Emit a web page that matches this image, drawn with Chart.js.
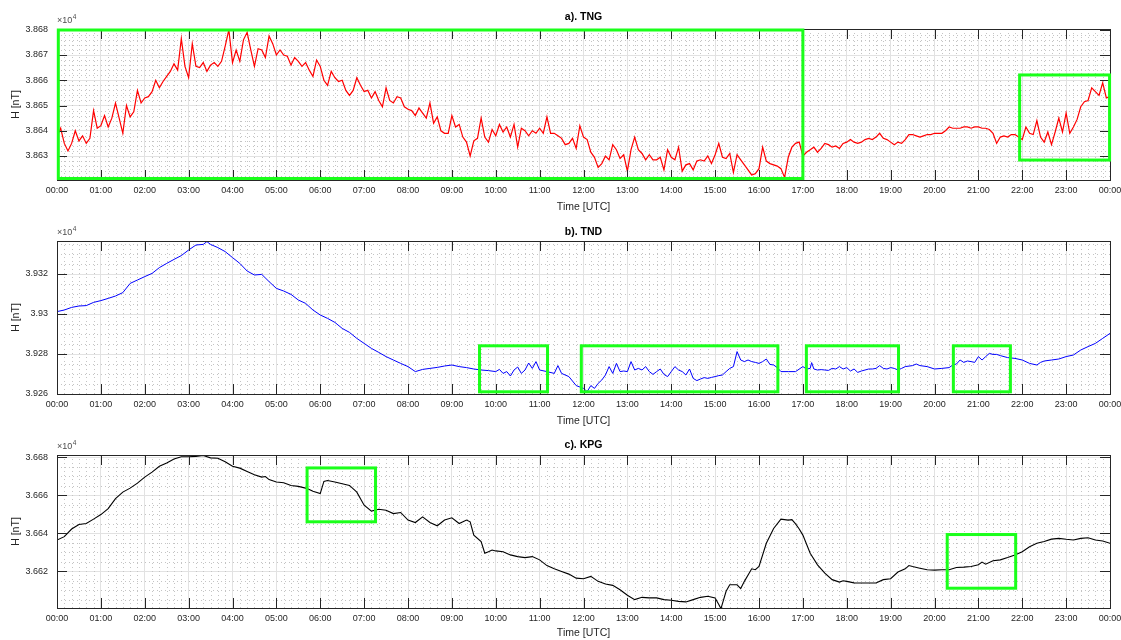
<!DOCTYPE html>
<html>
<head>
<meta charset="utf-8">
<script src="https://cdn.jsdelivr.net/npm/chart.js@4.4.1/dist/chart.umd.min.js"></script>
<style>
  html, body { margin: 0; padding: 0; background: #fff; }
  #wrap { position: relative; width: 1121px; height: 640px; }
  canvas { position: absolute; left: 0; }
</style>
</head>
<body>
<div id="wrap">
  <canvas id="cTNG" width="1121" height="214" style="top:0px"></canvas>
  <canvas id="cTND" width="1121" height="214" style="top:214px"></canvas>
  <canvas id="cKPG" width="1121" height="212" style="top:428px"></canvas>
</div>
<script>
// x axis: hours of the day
var hourTicks = [0,1,2,3,4,5,6,7,8,9,10,11,12,13,14,15,16,17,18,19,20,21,22,23,24]
var hourLabels = ['00:00','01:00','02:00','03:00','04:00','05:00','06:00','07:00','08:00','09:00','10:00','11:00',
  '12:00','13:00','14:00','15:00','16:00','17:00','18:00','19:00','20:00','21:00','22:00','23:00','00:00']

// a). TNG  - one value every 5 minutes from 00:00 to 24:00 (nT)
var tngStepMin = 5
var tngH = [
  38637.5,38641,38635,38632,38635,38640,38636,38638,38635,38637,38648,38641,
  38642,38646,38641.5,38645,38651,38645,38639,38650,38645.5,38647.5,38656,38651,
  38653,38653.5,38655.5,38660,38657,38659.5,38661.5,38663.5,38666.5,38664,38676.5,38665.5,
  38661,38674.5,38665.5,38665,38667,38663.5,38666,38667,38665.5,38667.5,38673.5,38680,
  38667,38672,38667.5,38676,38679,38672,38665.5,38672.5,38672,38669,38677.5,38674.5,
  38670,38672,38670,38669.5,38666,38669,38667.5,38665.5,38667,38664,38661.5,38668,
  38665.5,38660,38658,38663.5,38661,38659.5,38660,38656,38654,38656,38661,38658,
  38655.5,38656,38653,38655.5,38652,38649.5,38657,38652,38651,38653.5,38653,38649.5,
  38648.5,38648,38646,38649,38647,38645,38651,38643,38645.5,38640,38639,38639,
  38646,38641.5,38642.5,38637.5,38635.5,38630,38636,38637,38645,38637.5,38635.5,38640.5,
  38638,38642.5,38639.5,38641.5,38637.5,38642.5,38633.5,38641,38640,38638,38640,38639,
  38641,38639,38645.5,38639,38639,38638,38637,38634.5,38635,38637,38633,38642,
  38637.5,38636.5,38631.5,38629.5,38625.5,38627,38630,38628.5,38634.5,38632.5,38629,38630.5,
  38624,38632.5,38637.5,38632.5,38631,38628.5,38630.5,38628.5,38628.5,38629.5,38624.5,38632.5,
  38629.5,38628.5,38633.5,38624,38626.5,38627,38624.5,38628,38628.5,38628,38630,38627,
  38630.5,38635,38629.5,38629,38631,38623.5,38630.5,38628.5,38626.5,38624.5,38622.5,38623,
  38625,38633.5,38628,38627,38626.5,38626,38625,38621.5,38629.5,38633.5,38635,38635.5,
  38630,38631.5,38632.5,38633.5,38631.5,38633,38635,38634.5,38633.5,38634,38633,38635,
  38635.5,38636.5,38635.5,38635,38635.5,38636.5,38637,38636.5,38637.5,38639,38637,38636.5,
  38635.5,38634.5,38635.5,38635,38636.5,38638.5,38638.5,38638,38637.5,38638,38638.5,38638.5,
  38639,38639,38639,38640,38641.5,38641,38641,38641,38641.5,38641.5,38641,38641.5,
  38641.5,38641,38641,38640.5,38639,38635,38637.5,38638,38637.5,38638.5,38638.5,38637.5,
  38636.5,38641.5,38639,38638.5,38644,38637.5,38635.5,38639.5,38634.5,38639.5,38645,38639.5,
  38647,38639,38641.5,38644.5,38649.5,38651.5,38652,38657,38655.5,38654,38659,38653,
  38653.5
]

// b). TND (nT)
var tndTime = [
  '00:00','00:10','00:20','00:30','00:40','00:50',
  '01:00','01:10','01:20','01:30','01:40','01:50',
  '02:00','02:10','02:20','02:30','02:40','02:50',
  '03:00','03:10','03:20','03:25','03:30','03:40','03:50',
  '04:00','04:10','04:20','04:30','04:40','04:50',
  '05:00','05:10','05:20','05:30','05:40','05:50',
  '06:00','06:10','06:20','06:30','06:40','06:50',
  '07:00','07:10','07:20','07:30','07:40','07:50',
  '08:00','08:10','08:20','08:30','08:40','08:50',
  '09:00','09:10','09:20','09:30','09:40','09:50',
  '10:00','10:05','10:10','10:15','10:20','10:25','10:30','10:35','10:40','10:45','10:50','10:55',
  '11:00','11:10','11:20','11:25','11:30','11:40','11:50',
  '12:00','12:05','12:10','12:15','12:20','12:25','12:30','12:35','12:40','12:45','12:50','12:55',
  '13:00','13:05','13:10','13:15','13:20','13:25','13:30','13:35','13:40','13:45','13:50','13:55',
  '14:00','14:05','14:10','14:15','14:20','14:25','14:30','14:35','14:40','14:45','14:50','14:55',
  '15:00','15:05','15:10','15:15','15:20','15:25','15:30','15:35','15:40','15:45','15:50','15:55',
  '16:00','16:05','16:10','16:15','16:20','16:25','16:30','16:40','16:50',
  '17:00','17:05','17:10','17:12','17:15','17:20','17:25','17:30','17:35','17:40','17:45','17:50','17:55',
  '18:00','18:05','18:10','18:15','18:20','18:25','18:30','18:35','18:40','18:45','18:50','18:55',
  '19:00','19:05','19:10','19:15','19:20','19:30','19:35','19:40','19:50',
  '20:00','20:10','20:20','20:25','20:30','20:35','20:40','20:45','20:50','20:55',
  '21:00','21:05','21:10','21:15','21:20','21:25','21:30','21:40','21:50',
  '22:00','22:10','22:20','22:25','22:30','22:40','22:50',
  '23:00','23:10','23:20','23:30','23:40','23:50','24:00'
]
var tndH = [
  39301.2,39302,39303.3,39304,39304.2,39305.8,
  39306.7,39307.8,39309,39310.7,39315.3,39317,
  39318.7,39320.3,39323.2,39325.3,39327.3,39329.2,
  39332,39334.5,39334.8,39336.2,39334.8,39333.2,39331.2,
  39328.2,39325.3,39321.5,39319.5,39319.8,39316.2,
  39312.8,39311.5,39309.8,39307,39305.3,39302,
  39299.5,39297.8,39295.8,39292.8,39290.8,39287.8,
  39285.3,39282.8,39280.8,39278.7,39277,39275.3,
  39273.7,39271.2,39272.3,39272.8,39273.3,39274,
  39274.5,39273.7,39273.2,39272.5,39272,39271.7,
  39271.2,39272.3,39270.3,39271.2,39269,39272,39273.5,39270.3,39272,39275.5,39272.8,39276.2,
  39272,39271.2,39270.3,39274.2,39270.3,39268.7,39264.2,
  39262.8,39261.2,39264.2,39262.8,39265.3,39267,39269.5,39273.7,39270.3,39275.3,39271.2,39271.5,
  39271.2,39276.2,39272,39272.8,39272,39273.7,39271.2,39269.8,39271.2,39272.5,39269.8,39268.7,
  39271.2,39273.7,39272,39271.2,39269.5,39272.5,39267.8,39266.7,39267.5,39268.2,39267.8,39268.3,
  39268.7,39269.2,39269.5,39271.2,39272.8,39273.7,39281.2,39277,39276.2,39277,39276.2,39275.8,
  39275.3,39276.2,39277.5,39274.8,39274.5,39273.2,39271.2,39271.2,39271.2,
  39273.7,39272.5,39272.8,39275.7,39272.5,39272,39272.2,39272,39271.8,39272.8,39272.5,39273.7,39272.5,
  39273.2,39271.5,39272.5,39270.8,39271.5,39272,39272.5,39272.5,39272.8,39274.2,39272.8,39272.5,
  39273.2,39272.8,39272,39272.8,39273.7,39274.2,39275,39274.2,39273.7,
  39272.5,39272.8,39273.2,39274.5,39275,39277,39275.8,39276.5,39276.2,39275.8,
  39278.7,39277,39278.7,39280.3,39279.8,39279.8,39279.2,39278.2,39277.8,
  39277,39275.3,39274.5,39275.8,39276.5,39277,39277.5,
  39278.7,39279.5,39282,39283.7,39285.3,39287.8,39290.3
]

// c). KPG (nT)
var kpgTime = [
  '00:00','00:10','00:20','00:30','00:40','00:50',
  '01:00','01:10','01:20','01:30','01:40','01:50',
  '02:00','02:10','02:20','02:30','02:40','02:50',
  '03:00','03:10','03:20','03:30','03:40','03:50',
  '04:00','04:10','04:20','04:30','04:40','04:45','04:50',
  '05:00','05:10','05:20','05:30','05:40','05:45','05:50',
  '06:00','06:05','06:10','06:20','06:30','06:40','06:50',
  '07:00','07:10','07:20','07:30','07:40','07:50',
  '08:00','08:10','08:20','08:30','08:40','08:50',
  '09:00','09:10','09:20','09:25','09:30','09:40','09:45','09:50','09:55',
  '10:00','10:10','10:20','10:30','10:40','10:50',
  '11:00','11:10','11:20','11:30','11:40','11:50',
  '12:00','12:10','12:20','12:30','12:40','12:50',
  '13:00','13:10','13:20','13:30','13:40','13:50',
  '14:00','14:10','14:20','14:30','14:40','14:50',
  '15:00','15:05','15:08','15:15','15:20','15:30','15:35','15:40','15:50','15:55',
  '16:00','16:10','16:20','16:30','16:40','16:45','16:50','16:55',
  '17:00','17:10','17:20','17:30','17:40','17:50','17:55',
  '18:00','18:10','18:20','18:30','18:40','18:50',
  '19:00','19:10','19:20','19:25','19:30','19:40','19:50',
  '20:00','20:10','20:20','20:30','20:40','20:50',
  '21:00','21:05','21:10','21:20','21:30','21:40','21:50',
  '22:00','22:10','22:20','22:30','22:40','22:50',
  '23:00','23:10','23:20','23:30','23:40','23:50','24:00'
]
var kpgH = [
  36636.5,36638.3,36642.3,36644.7,36645.2,36647.5,
  36649.9,36653,36658.3,36661.7,36663.8,36666.4,
  36669.6,36672.2,36675.3,36677,36679.1,36680.3,
  36680.3,36680.5,36680.9,36679.7,36679.5,36677.7,
  36675.3,36674.3,36672.5,36670.8,36669.6,36669.9,36668.3,
  36667,36666.6,36665.2,36664.7,36663.8,36663.1,36662.1,
  36660.9,36667.3,36667.8,36667,36666.1,36665.2,36661.7,
  36654.8,36651.7,36652.7,36652.2,36650.4,36651,
  36647,36645.7,36648.7,36645.7,36644,36647,
  36648.2,36645.2,36647,36646.1,36639.1,36635.7,36629.6,36630.4,36631.3,
  36630.8,36630.4,36628.7,36627.8,36627.3,36627.8,
  36626.1,36623.1,36621.4,36620,36618.6,36616.5,
  36616.2,36617.4,36614.8,36613.4,36612.7,36610.4,
  36607.5,36605.2,36606.4,36606.1,36606.1,36605.2,
  36604.9,36604.3,36604,36605.2,36606.4,36607,
  36606.1,36602.6,36600.5,36609.6,36613,36613,36611,36614.8,36621.4,36620.9,
  36622.6,36634.8,36642.6,36647.5,36647,36647.2,36645,36642.3,
  36639.1,36629.6,36623.5,36619.1,36615.7,36614.4,36615.1,
  36614.8,36614,36613.9,36613.9,36613.9,36615.7,
  36616.2,36619.7,36621.4,36623.1,36622.6,36621.7,36620.9,
  36620.7,36620.9,36620.9,36622.1,36622.3,36622.6,
  36623.5,36624.9,36623.8,36625.6,36626.1,36627.3,36628.7,
  36630.4,36633,36634.8,36635.7,36637,36637.4,
  36636.9,36636.5,36637.4,36637.7,36636.5,36636,36634.8
]

// y axis ticks and limits (nT)
var tngTicks = [38630,38640,38650,38660,38670,38680]
var tndTicks = [39260,39280,39300,39320]
var kpgTicks = [36620,36640,36660,36680]
var tngRange = [38620.5, 38680.3]
var tndRange = [39260, 39336.5]
var kpgRange = [36600.8, 36681.2]

// highlighted intervals: [start hour, end hour, low nT, high nT]
var tngBoxes = [[0.03,17,38621.1,38679.9],[21.94,23.99,38628.4,38662.1]]
var tndBoxes = [[9.63,11.18,39261.1,39284.1],[11.95,16.43,39261.1,39284.1],
                [17.08,19.18,39261.1,39284.1],[20.43,21.73,39261.1,39284.1]]
var kpgBoxes = [[5.7,7.26,36646.1,36674.4],[20.29,21.85,36611.2,36639.4]]

var FONT = '"Liberation Sans", Arial, Helvetica, sans-serif'
var TXT = '#262626'

function toHours(t){
   var p = t.split(':')
   return parseInt(p[0]) + parseInt(p[1]) / 60
}

function makeDeco(cfg){
   return {
      id: 'deco',
      beforeDatasetsDraw(chart){
         const ctx = chart.ctx, a = chart.chartArea, x = chart.scales.x, y = chart.scales.y
         ctx.save()
         ctx.strokeStyle = '#c4c4c4'
         ctx.lineWidth = 1
         ctx.setLineDash([1, 3])
         ctx.beginPath()
         // minor grid every 10 minutes
         for (var m = 10; m < 24 * 60; m += 10){
            if (m % 60 === 0) continue
            var px = Math.round(x.getPixelForValue(m / 60)) + 0.5
            ctx.moveTo(px, a.top); ctx.lineTo(px, a.bottom)
         }
         for (var v = Math.ceil(y.min / cfg.minorStep) * cfg.minorStep; v <= y.max; v += cfg.minorStep){
            if (v % cfg.majorStep === 0) continue
            var py = Math.round(y.getPixelForValue(v)) + 0.5
            ctx.moveTo(a.left, py); ctx.lineTo(a.right, py)
         }
         ctx.stroke()
         ctx.restore()
      },
      afterDatasetsDraw(chart){
         const ctx = chart.ctx, a = chart.chartArea, x = chart.scales.x, y = chart.scales.y
         ctx.save()
         // inward tick marks on all four sides
         ctx.strokeStyle = TXT
         ctx.lineWidth = 1
         ctx.beginPath()
         hourTicks.forEach(function(h){
            var px = Math.round(x.getPixelForValue(h)) + 0.5
            ctx.moveTo(px, a.bottom); ctx.lineTo(px, a.bottom - 10)
            ctx.moveTo(px, a.top); ctx.lineTo(px, a.top + 10)
         })
         cfg.ticks.forEach(function(t){
            var py = Math.round(y.getPixelForValue(t)) + 0.5
            ctx.moveTo(a.left, py); ctx.lineTo(a.left + 10, py)
            ctx.moveTo(a.right, py); ctx.lineTo(a.right - 10, py)
         })
         ctx.stroke()
         // axes box
         ctx.strokeRect(Math.round(a.left) + 0.5, Math.round(a.top) + 0.5,
                        Math.round(a.right - a.left), Math.round(a.bottom - a.top))
         // green boxes
         ctx.strokeStyle = '#1aff1a'
         ctx.lineWidth = 3
         cfg.boxes.forEach(function(b){
            var x0 = x.getPixelForValue(b[0]), x1 = x.getPixelForValue(b[1])
            var y0 = y.getPixelForValue(b[3]), y1 = y.getPixelForValue(b[2])
            ctx.strokeRect(x0, y0, x1 - x0, y1 - y0)
         })
         // exponent label
         ctx.fillStyle = '#4d4d4d'
         ctx.textBaseline = 'alphabetic'
         ctx.textAlign = 'left'
         ctx.font = '9px ' + FONT
         ctx.fillText('\u00d710', a.left, a.top - 6)
         var w = ctx.measureText('\u00d710').width
         ctx.font = '6.5px ' + FONT
         ctx.fillText('4', a.left + w + 0.5, a.top - 10)
         // panel title
         ctx.fillStyle = '#000'
         ctx.font = 'bold 10.5px ' + FONT
         ctx.textAlign = 'center'
         ctx.textBaseline = 'middle'
         ctx.fillText(cfg.title, (a.left + a.right) / 2, cfg.titleY)
         ctx.restore()
      }
   }
}

function makePanel(canvasId, points, color, lineW, range, ticks, majorStep, minorStep, boxes, title, titleY, topPad){
   const canvas = document.getElementById(canvasId)
   const ctx = canvas.getContext('2d')
   const h = canvas.height
   return new Chart(ctx, {
      type: 'line',
      data: {
         datasets: [{
            data: points,
            borderColor: color,
            borderWidth: lineW,
            pointRadius: 0,
            tension: 0,
            fill: false
         }]
      },
      options: {
         responsive: false,
         animation: false,
         parsing: false,
         layout: { padding: { left: 0, right: 11, top: topPad, bottom: 0 } },
         plugins: { legend: { display: false }, tooltip: { enabled: false } },
         scales: {
            x: {
               type: 'linear',
               min: 0,
               max: 24,
               afterBuildTicks: function(axis){ axis.ticks = hourTicks.map(function(v){ return { value: v } }) },
               afterFit: function(axis){
                  axis.height = h - 180
                  axis.paddingLeft = 0
                  axis.paddingRight = 0
               },
               grid: { color: '#e2e2e2', drawTicks: false },
               border: { display: false },
               ticks: {
                  autoSkip: false,
                  maxRotation: 0,
                  padding: 5,
                  color: TXT,
                  font: { family: FONT, size: 9 },
                  callback: function(value, index){ return hourLabels[index] }
               },
               title: {
                  display: true,
                  text: 'Time [UTC]',
                  color: TXT,
                  font: { family: FONT, size: 10.5 },
                  padding: { top: 0, bottom: 1 }
               }
            },
            y: {
               type: 'linear',
               min: range[0],
               max: range[1],
               afterBuildTicks: function(axis){ axis.ticks = ticks.map(function(v){ return { value: v } }) },
               afterFit: function(axis){
                  axis.width = 57
                  axis.paddingTop = 0
                  axis.paddingBottom = 0
               },
               grid: { color: '#e2e2e2', drawTicks: false },
               border: { display: false },
               ticks: {
                  padding: 9,
                  color: TXT,
                  font: { family: FONT, size: 9 },
                  callback: function(value){ return String(+(value / 1e4).toFixed(4)) }
               },
               title: {
                  display: true,
                  text: 'H [nT]',
                  color: TXT,
                  font: { family: FONT, size: 10.5 },
                  padding: { top: 10, bottom: 0 }
               }
            }
         }
      },
      plugins: [makeDeco({ ticks: ticks, majorStep: majorStep, minorStep: minorStep, boxes: boxes, title: title, titleY: titleY })]
   })
}

var tngPoints = tngH.map(function(v, i){ return { x: i * tngStepMin / 60, y: v } })
var tndPoints = tndH.map(function(v, i){ return { x: toHours(tndTime[i]), y: v } })
var kpgPoints = kpgH.map(function(v, i){ return { x: toHours(kpgTime[i]), y: v } })

makePanel('cTNG', tngPoints, '#ff0000', 1.2, tngRange, tngTicks, 10, 2, tngBoxes, 'a). TNG', 17, 29)
makePanel('cTND', tndPoints, '#0000ff', 1, tndRange, tndTicks, 20, 5, tndBoxes, 'b). TND', 18, 27)
makePanel('cKPG', kpgPoints, '#000000', 1.1, kpgRange, kpgTicks, 20, 5, kpgBoxes, 'c). KPG', 17, 27)
</script>
</body>
</html>
